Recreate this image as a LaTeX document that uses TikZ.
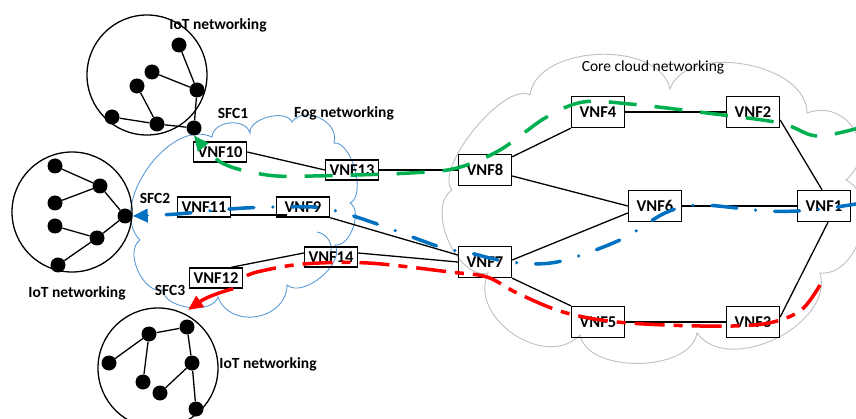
\documentclass[tikz,border=0pt]{standalone}
\usepackage{fontspec}
\setmainfont{Carlito}
\usetikzlibrary{arrows.meta}
\definecolor{sfcgreen}{RGB}{0,176,80}
\definecolor{sfcblue}{RGB}{0,112,192}
\definecolor{sfcred}{RGB}{255,0,0}
\definecolor{fogline}{RGB}{91,155,213}
\definecolor{coreline}{RGB}{191,191,191}
\begin{document}
\begin{tikzpicture}[x=1pt,y=-1pt,
  vnfcore/.style={draw, line width=1.4pt, minimum width=53pt, minimum height=31pt,
    inner sep=0pt, font=\fontsize{16.5}{16.5}\selectfont\bfseries},
  vnffog/.style={vnfcore, minimum height=20pt},
  link/.style={line width=1.3pt},
  dot/.style={circle, fill=black, minimum size=15pt, inner sep=0pt},
  iot/.style={draw, line width=1.3pt, circle, minimum size=120pt, inner sep=0pt},
  tag/.style={font=\fontsize{15.5}{16}\selectfont\bfseries},
  lobe/.style={bend left=80, looseness=#1},
  tip/.style={-{Triangle[length=15pt,width=13pt]}},
  sfcone/.style={sfcgreen, line width=3.5pt, dash pattern=on 28pt off 18pt},
  sfctwo/.style={sfcblue, line width=3.5pt, line cap=round,
    dash pattern=on 25pt off 19pt on 0pt off 19pt},
  sfcthree/.style={sfcred, line width=3.5pt, dash pattern=on 30pt off 9pt on 9pt off 9pt},
]
\useasboundingbox (0,0) rectangle (856,419);
\clip (0,0) rectangle (856,419);

% fog cloud outline
\draw[fogline, line width=0.9pt]
  (140,240) to[lobe=0.96] (212,137) to[lobe=1.1] (250,133) to[lobe=0.87] (292,122)
  to[lobe=1.18] (334,143) to[lobe=0.75] (350,203) to[lobe=0.87] (335,245)
  to[lobe=0.87] (287,285) to[lobe=1.28] (218,297) to[lobe=0.87] (163,290)
  to[lobe=0.93] (140,240);
\draw[fogline, line width=0.9pt] (317,232) to[bend left=45] (331,252);

% core cloud outline
\draw[coreline, line width=0.9pt]
  (452,190) to[lobe=0.6] (530,95) to[lobe=0.93] (670,89) to[lobe=0.93] (807,113)
  to[lobe=1.45] (846,180) to[lobe=1.04] (820,273) to[lobe=1.0] (697,333)
  to[lobe=0.87] (580,335) to[lobe=1.14] (488,273) to[lobe=0.9] (452,190);

% VNF boxes, fog side
\node[vnffog] (VNF10) at (220,152) {VNF10};
\node[vnffog] (VNF13) at (352,170) {VNF13};
\node[vnffog] (VNF11) at (204,207) {VNF11};
\node[vnffog] (VNF9)  at (303,207) {VNF9};
\node[vnffog] (VNF14) at (331,257) {VNF14};
\node[vnffog] (VNF12) at (216,278) {VNF12};

% VNF boxes, core side
\node[vnfcore] (VNF4) at (598,112) {VNF4};
\node[vnfcore] (VNF2) at (753,112) {VNF2};
\node[vnfcore] (VNF8) at (485,170) {VNF8};
\node[vnfcore] (VNF6) at (655,206) {VNF6};
\node[vnfcore] (VNF1) at (824,206) {VNF1};
\node[vnfcore] (VNF7) at (485,262) {VNF7};
\node[vnfcore] (VNF5) at (598,322) {VNF5};
\node[vnfcore] (VNF3) at (753,322) {VNF3};

% links between VNFs
\draw[link] (VNF10.east) -- (VNF13.west);
\draw[link] (VNF13.east) -- (VNF8.west);
\draw[link] ([yshift=-8pt]VNF11.east) -- ([xshift=11pt,yshift=-8pt]VNF9.west);
\draw[link] (VNF9.south east) -- ([yshift=7pt]VNF7.west);
\draw[link] ([yshift=4pt]VNF14.east) -- (VNF7.west);
\draw[link] ([xshift=-12pt]VNF12.north east) -- ([yshift=4pt]VNF14.west);
\draw[link] ([yshift=-3pt]VNF8.north east) -- (VNF4.south west);
\draw[link] ([yshift=-6pt]VNF8.east) -- (VNF6.west);
\draw[link] (VNF4.east) -- (VNF2.west);
\draw[link] ([yshift=-8pt]VNF2.east) -- ([xshift=-2pt]VNF1.north);
\draw[link] (VNF6.east) -- (VNF1.west);
\draw[link] ([yshift=2pt]VNF7.east) -- ([yshift=-7pt]VNF6.west);
\draw[link] (VNF7.south east) -- (VNF5.north west);
\draw[link] (VNF5.east) -- (VNF3.west);
\draw[link] ([yshift=5pt]VNF3.east) -- ([xshift=4pt]VNF1.south);

% IoT network, top
\node[iot] (iotA) at (147,75) {};
\node[dot] (a1) at (179,45) {};
\node[dot] (a2) at (152,72) {};
\node[dot] (a3) at (137,86) {};
\node[dot] (a4) at (197,90) {};
\node[dot] (a5) at (112,117) {};
\node[dot] (a6) at (157,124) {};
\node[dot] (a7) at (194,128) {};
\draw[link] (a1) -- (a4) (a2) -- (a4) (a3) -- (a6) (a5) -- (a6) (a6) -- (a7) (a4) -- (a7);

% IoT network, left
\node[iot] (iotB) at (72,212) {};
\node[dot] (b1) at (55,166) {};
\node[dot] (b2) at (100,186) {};
\node[dot] (b3) at (55,203) {};
\node[dot] (b4) at (55,226) {};
\node[dot] (b5) at (125,216) {};
\node[dot] (b6) at (97,238) {};
\node[dot] (b7) at (58,265) {};
\draw[link] (b1) -- (b2) (b3) -- (b2) (b2) -- (b5) (b4) -- (b6) (b5) -- (b6) (b6) -- (b7);

% IoT network, bottom
\node[iot] (iotC) at (158,368) {};
\node[dot] (c1) at (149,334) {};
\node[dot] (c2) at (187,327) {};
\node[dot] (c3) at (109,363) {};
\node[dot] (c4) at (192,363) {};
\node[dot] (c5) at (143,382) {};
\node[dot] (c6) at (160,393) {};
\node[dot] (c7) at (196,409) {};
\draw[link] (c1) -- (c2) (c1) -- (c3) (c1) -- (c5) (c2) -- (c4) (c4) -- (c7) (c4) -- (c6);

% labels
\node[tag] (labA) at (218,25) {IoT networking};
\node[tag] (labB) at (77,293) {IoT networking};
\node[tag] (labC) at (268,364) {IoT networking};
\node[tag] (lsfc1) at (233,113) {SFC1};
\node[tag] (lfog) at (344,113) {Fog networking};
\node[tag] (lsfc2) at (155,198) {SFC2};
\node[tag] (lsfc3) at (170,290) {SFC3};
\node[font=\fontsize{15.5}{16}\selectfont] (lcore) at (653,67) {Core cloud networking};

% service function chains
\draw[sfcone, tip] plot[smooth, tension=0.55] coordinates {
  (862,127) (817,136) (780,123) (707,113) (630,104) (583,102) (545,118)
  (500,150) (457,168) (410,173) (313,176) (267,175) (222,163) (a7.south)};
\draw[sfctwo, tip] plot[smooth, tension=0.55] coordinates {
  (862,203) (813,210) (767,211) (700,205) (665,213) (620,240) (557,262)
  (510,262) (470,253) (440,247) (380,225) (340,212) (313,207) (245,208)
  (177,214) (b5.east)};
\draw[sfcthree] plot[smooth, tension=0.55] coordinates {
  (820,285) (800,311) (763,324) (700,326) (617,322) (563,312) (517,293)
  (487,277) (450,272) (368,263) (303,264) (257,272) (VNF12.east)};
\draw[sfcred, line width=3.5pt, tip] ([xshift=-10pt]VNF12.south east)
  to[bend right=10] (188,310);
\end{tikzpicture}
\end{document}
